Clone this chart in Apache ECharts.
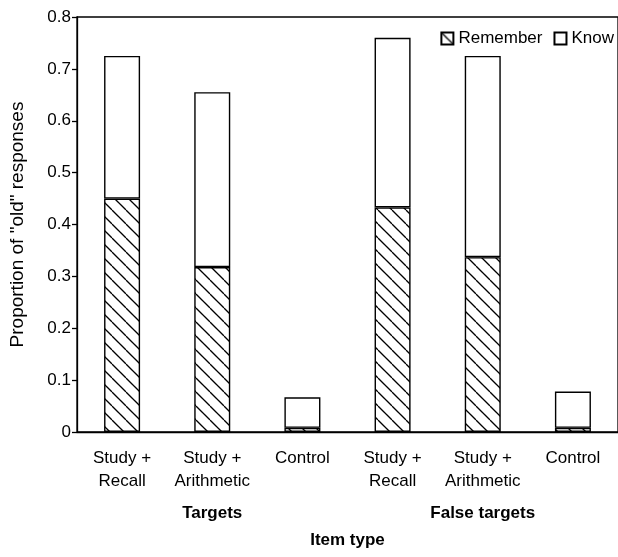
<!DOCTYPE html>
<html>
<head>
<meta charset="utf-8">
<script src="https://cdn.jsdelivr.net/npm/echarts@6/dist/echarts.min.js"></script>
<style>
html,body{margin:0;padding:0;background:#fff;}
#chart{width:618px;height:557px;}
</style>
</head>
<body>
<div id="chart"></div>
<script>
// Data
const categories = ['Study +\nRecall', 'Study +\nArithmetic', 'Control', 'Study +\nRecall', 'Study +\nArithmetic', 'Control'];
const groups = ['Targets', 'False targets'];
const rememberValues = [0.45, 0.318, 0.008, 0.433, 0.337, 0.008];
const totalValues = [0.725, 0.655, 0.067, 0.76, 0.725, 0.078];
const knowValues = totalValues.map((t, i) => +(t - rememberValues[i]).toFixed(3));
const yTicks = [0, 0.1, 0.2, 0.3, 0.4, 0.5, 0.6, 0.7, 0.8];

// hatch pattern
const tile = document.createElement('canvas');
tile.width = 14; tile.height = 14;
const ctx = tile.getContext('2d');
ctx.fillStyle = '#fff';
ctx.fillRect(0, 0, 14, 14);
ctx.strokeStyle = '#000';
ctx.lineWidth = 1.3;
for (const k of [-14, 0, 14]) {
  ctx.beginPath();
  ctx.moveTo(k, 0);
  ctx.lineTo(k + 14, 14);
  ctx.stroke();
}
const hatch = { image: tile, repeat: 'repeat' };

const font = 'Liberation Sans, Arial, sans-serif';
const chart = echarts.init(document.getElementById('chart'));
chart.setOption({
  backgroundColor: '#fff',
  animation: false,
  textStyle: { fontFamily: font, color: '#000' },
  legend: {
    top: 30, right: 4, padding: 0,
    itemWidth: 12, itemHeight: 12, itemGap: 11,
    textStyle: { fontSize: 17, color: '#000', fontFamily: font, padding: [0, 0, 0, 0] },
    data: [
      { name: 'Remember', icon: 'rect' },
      { name: 'Know', icon: 'rect' }
    ]
  },
  grid: {
    left: 77, top: 17, width: 546, bottom: 125,
    show: true, borderColor: '#000', borderWidth: 1.3, backgroundColor: 'transparent'
  },
  xAxis: [
    {
      type: 'category', data: categories, position: 'bottom',
      axisLine: { show: true, lineStyle: { color: '#000', width: 1.3 } },
      axisTick: { show: false },
      axisLabel: { fontSize: 17, color: '#000', fontFamily: font, lineHeight: 23, margin: 15, interval: 0 }
    },
    {
      type: 'category', data: groups, position: 'bottom', offset: 73,
      axisLine: { show: false }, axisTick: { show: false },
      axisLabel: { fontSize: 17, fontWeight: 'bold', color: '#000', fontFamily: font, margin: 0 },
      name: 'Item type', nameLocation: 'middle', nameGap: 27,
      nameTextStyle: { fontSize: 17, fontWeight: 'bold', color: '#000', fontFamily: font }
    }
  ],
  yAxis: {
    type: 'value', min: 0, max: 0.8, interval: 0.1,
    name: 'Proportion of "old" responses', nameLocation: 'middle', nameGap: 50,
    nameTextStyle: { fontSize: 19, color: '#000', fontFamily: font, padding: [0, 0, 0, 0] },
    axisLine: { show: true, lineStyle: { color: '#000', width: 1.3 } },
    axisTick: { show: true, length: 5, lineStyle: { color: '#000', width: 1.3 } },
    splitLine: { show: false },
    axisLabel: {
      fontSize: 17, color: '#000', fontFamily: font, margin: 6,
      formatter: v => (yTicks.includes(+v.toFixed(1)) ? (v === 0 ? '0' : v.toFixed(1)) : '')
    }
  },
  series: [
    {
      name: 'Remember', type: 'bar', stack: 'a', barWidth: 36, xAxisIndex: 0,
      data: rememberValues,
      itemStyle: { color: hatch, borderColor: '#000', borderWidth: 1.4 }
    },
    {
      name: 'Know', type: 'bar', stack: 'a', barWidth: 36, xAxisIndex: 0,
      data: knowValues,
      itemStyle: { color: '#fff', borderColor: '#000', borderWidth: 1.4 }
    }
  ]
});
</script>
</body>
</html>
